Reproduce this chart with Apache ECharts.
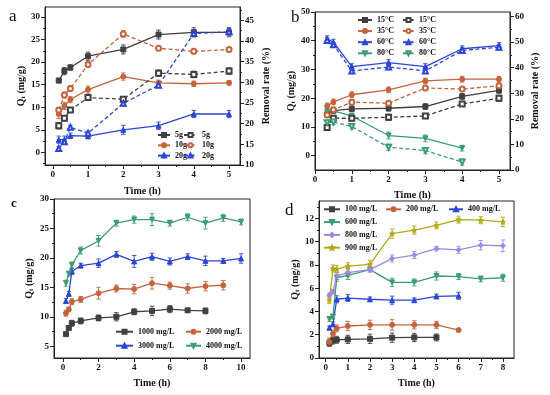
<!DOCTYPE html>
<html><head><meta charset="utf-8">
<script src="https://cdn.jsdelivr.net/npm/echarts@6/dist/echarts.min.js"></script>
<style>html,body{margin:0;padding:0;background:#fff}#c{width:550px;height:395px}</style>
</head><body><div id="c"></div>
<script>
// ---------- Panel a ----------
const xA = [0.17, 0.33, 0.5, 1, 2, 3, 4, 5];
const a5Q  = [15.9, 18.0, 18.8, 21.3, 22.8, 26.1, 26.6, 26.6];
const a10Q = [8.5, 10.3, 11.7, 13.9, 16.8, 15.4, 15.2, 15.4];
const a20Q = [2.8, 2.8, 3.7, 3.6, 5.0, 5.9, 8.5, 8.5];
const a5R  = [19.5, 21.3, 23.3, 26.3, 25.9, 32.2, 31.9, 32.7];
const a10R = [23.3, 26.9, 28.5, 34.3, 41.7, 38.2, 37.5, 37.9];
const a20R = [14.0, 15.6, 19.1, 17.7, 24.9, 29.3, 41.8, 42.2];
const a5QE  = [0.5, 0.8, 0.6, 0.9, 1.0, 1.0, 1.0, 1.0];
const a10QE = [1.0, 0.8, 0.7, 0.8, 0.8, 0.6, 0.6, 0.5];
const a20QE = [0.8, 0.8, 0.6, 0.6, 1.0, 0.8, 0.8, 0.8];
const a5RE  = [0.8, 0.6, 0.6, 0.5, 0.5, 0.8, 0.8, 0.8];
const a10RE = [0.5, 0.7, 0.7, 0.6, 0.8, 0.5, 0.6, 0.5];
const a20RE = [0.5, 0.5, 0.5, 0.5, 0.6, 0.6, 0.8, 0.8];
// ---------- Panel b ----------
const xB = [0.33, 0.5, 1, 2, 3, 4, 5];
const b15Q = [14.4, 15.7, 16.3, 16.5, 17.1, 20.6, 22.7];
const b35Q = [17.3, 18.7, 21.2, 22.9, 26.0, 26.6, 26.6];
const b60Q = [40.7, 39.5, 31.0, 32.4, 31.0, 37.2, 38.3];
const b80Q = [15.3, 15.6, 13.8, 7.0, 6.0, 2.6, null];
const b15R = [16.6, 20.2, 20.2, 20.6, 21.1, 25.8, 28.0];
const b35R = [21.5, 23.5, 26.5, 26.1, 32.0, 31.6, 32.9];
const b60R = [50.6, 48.9, 38.7, 40.2, 38.7, 46.7, 47.9];
const b80R = [18.5, 18.7, 17.0, 8.9, 7.6, 3.1, null];
const b15QE = [1.0, 1.0, 1.0, 1.0, 1.0, 1.0, 1.0];
const b35QE = [1.0, 1.0, 1.0, 1.0, 1.0, 1.0, 1.0];
const b60QE = [1.0, 1.0, 1.0, 1.0, 1.0, 1.0, 1.0];
const b80QE = [1.0, 1.0, 1.0, 1.2, 1.2, 1.0, null];
const b15RE = [1.0, 1.0, 1.0, 1.2, 1.0, 1.0, 1.2];
const b35RE = [1.0, 1.0, 1.0, 1.0, 1.0, 1.0, 1.0];
const b60RE = [1.0, 1.0, 1.0, 1.0, 1.0, 1.0, 1.0];
const b80RE = [1.0, 1.0, 1.0, 1.2, 1.2, 1.2, null];
// ---------- Panel c ----------
const xC = [0.17, 0.33, 0.5, 1, 2, 3, 4, 5, 6, 7, 8, 9, 10];
const c1000 = [7.05, 8.1, 8.9, 9.3, 9.8, 10.0, 10.85, 11.0, 11.3, 11.1, 11.0, null, null];
const c2000 = [10.6, 11.25, 12.55, 12.95, 14.0, 14.8, 14.7, 15.7, 15.3, 14.8, 15.2, 15.35, null];
const c3000 = [12.7, 13.9, 17.7, 18.7, 19.1, 20.6, 19.4, 20.2, 19.4, 20.2, 19.5, 19.5, 19.9];
const c4000 = [15.7, 17.3, 18.8, 21.25, 22.9, 25.9, 26.5, 26.5, 25.9, 26.9, 25.9, 26.8, 26.1];
const c1000E = [0.3, 0.4, 0.5, 0.5, 0.5, 0.7, 0.5, 0.8, 0.6, 0.3, 0.5, null, null];
const c2000E = [0.5, 0.4, 0.5, 0.5, 1.0, 0.6, 0.8, 1.0, 0.6, 0.8, 0.8, 0.8, null];
const c3000E = [0.4, 0.4, 0.5, 0.4, 0.7, 0.5, 1.0, 0.6, 0.6, 0.5, 0.8, 0.4, 0.8];
const c4000E = [0.5, 0.4, 0.5, 0.6, 0.9, 0.5, 0.6, 1.0, 0.5, 0.6, 1.0, 0.6, 0.5];
// ---------- Panel d ----------
const xD = [0.17, 0.33, 0.5, 1, 2, 3, 4, 5, 6, 7, 8];
const d100 = [1.3, 1.5, 1.57, 1.6, 1.65, 1.75, 1.77, 1.77, null, null, null];
const d200 = [1.37, 2.1, 2.55, 2.75, 2.85, 2.85, 2.85, 2.85, 2.4, null, null];
const d400 = [2.6, 2.9, 5.05, 5.15, 5.05, 4.97, 4.97, 5.3, 5.35, null, null];
const d600 = [3.35, 3.55, 6.9, 7.1, 7.6, 6.5, 6.5, 7.05, 7.0, 6.8, 6.9];
const d800 = [5.4, 5.7, 7.05, 7.35, 7.6, 8.55, 8.85, 9.4, 9.3, 9.7, 9.65];
const d900 = [5.0, 7.7, 7.65, 7.9, 8.05, 10.7, 11.0, 11.4, 11.9, 11.85, 11.7];
const d100E = [0.3, 0.3, 0.3, 0.35, 0.4, 0.4, 0.35, 0.3, null, null, null];
const d200E = [0.35, 0.3, 0.3, 0.4, 0.4, 0.45, 0.35, 0.3, 0.15, null, null];
const d400E = [0.15, 0.2, 0.3, 0.3, 0.2, 0.35, 0.2, 0.2, 0.3, null, null];
const d600E = [0.2, 0.2, 0.3, 0.35, 0.2, 0.35, 0.3, 0.35, 0.25, 0.25, 0.3];
const d800E = [0.2, 0.2, 0.3, 0.35, 0.2, 0.3, 0.3, 0.2, 0.3, 0.4, 0.5];
const d900E = [0.3, 0.3, 0.3, 0.3, 0.35, 0.4, 0.35, 0.3, 0.3, 0.3, 0.4];
// ---------- tick labels ----------
const tA_x = [0,1,2,3,4,5], tA_xm = [0.5,1.5,2.5,3.5,4.5];
const tA_yl = [0,5,10,15,20,25,30], tA_ylm = [-2.5,2.5,7.5,12.5,17.5,22.5,27.5];
const tA_yr = [10,15,20,25,30,35,40,45], tA_yrm = [12.5,17.5,22.5,27.5,32.5,37.5,42.5,47.5];
const tB_x = [0,1,2,3,4,5], tB_xm = [0.5,1.5,2.5,3.5,4.5];
const tB_yl = [0,10,20,30,40,50], tB_ylm = [5,15,25,35,45];
const tB_yr = [0,10,20,30,40,50,60], tB_yrm = [5,15,25,35,45,55];
const tC_x = [0,2,4,6,8,10], tC_xm = [1,3,5,7,9];
const tC_y = [5,10,15,20,25,30], tC_ym = [7.5,12.5,17.5,22.5,27.5];
const tD_x = [0,1,2,3,4,5,6,7,8], tD_xm = [0.5,1.5,2.5,3.5,4.5,5.5,6.5,7.5];
const tD_y = [0,2,4,6,8,10,12], tD_ym = [1,3,5,7,9,11,13];

const FONT = '"Liberation Serif", "Times New Roman", serif';
const K = '#222';
const C_BLACK='#404040', C_BROWN='#c4633c', C_BLUE='#2b45d6', C_GREEN='#3c9c74', C_PURPLE='#a286e6', C_OLIVE='#b3a918';
const STAR = 'path://M0,-10L2.9,-4L9.5,-3.1L4.7,1.5L5.9,8.1L0,5L-5.9,8.1L-4.7,1.5L-9.5,-3.1L-2.9,-4Z';

const xAxes = [], yAxes = [], series = [];
const QNAME = '{q|Q}{s|t}{q| (mg/g)}';
const QRICH = {q:{fontFamily:FONT,fontWeight:'bold',fontSize:10,color:'#111'}, s:{fontFamily:FONT,fontWeight:'bold',fontSize:7,color:'#111',padding:[4,0,0,0]}};

function axisPair(list, base, labels, minors) {
  const main = Object.assign({type:'value', scale:false}, base, {
    axisLine:{show:true, onZero:false, lineStyle:{color:K, width:1}},
    axisTick:{show:true, inside:false, length:4, customValues:labels, lineStyle:{color:K, width:1}},
    axisLabel:{show:true, customValues:labels, fontFamily:FONT, fontWeight:'bold', fontSize:9, color:'#111', margin:5},
    splitLine:{show:false}
  });
  const minor = Object.assign({type:'value'}, base, {name:'',
    axisLine:{show:false, onZero:false},
    axisTick:{show:true, inside:false, length:2, customValues:minors, lineStyle:{color:K, width:1}},
    axisLabel:{show:false}, splitLine:{show:false}
  });
  const i = list.length;
  list.push(main, minor);
  return i;
}
const nameStyle = {fontFamily:FONT, fontWeight:'bold', fontSize:10, color:'#111'};

const xa = axisPair(xAxes, {gridIndex:0, min:-0.22, max:5.31, position:'bottom', name:'Time (h)', nameLocation:'middle', nameGap:21, nameTextStyle:nameStyle}, tA_x, tA_xm);
const xb = axisPair(xAxes, {gridIndex:1, min:0, max:5.3, position:'bottom', name:'Time (h)', nameLocation:'middle', nameGap:20, nameTextStyle:nameStyle}, tB_x, tB_xm);
const xc = axisPair(xAxes, {gridIndex:2, min:-0.5, max:10.5, position:'bottom', name:'Time (h)', nameLocation:'middle', nameGap:20, nameTextStyle:nameStyle}, tC_x, tC_xm);
const xd = axisPair(xAxes, {gridIndex:3, min:-0.3, max:8.5, position:'bottom', name:'Time (h)', nameLocation:'middle', nameGap:20, nameTextStyle:nameStyle}, tD_x, tD_xm);

const yal = axisPair(yAxes, {gridIndex:0, min:-2.8, max:32.2, position:'left', name:QNAME, nameLocation:'middle', nameRotate:90, nameGap:16, nameTextStyle:{rich:QRICH}}, tA_yl, tA_ylm);
const yar = axisPair(yAxes, {gridIndex:0, min:10, max:48.2, position:'right', name:'Removal rate (%)', nameLocation:'middle', nameRotate:90, nameGap:21, nameTextStyle:nameStyle}, tA_yr, tA_yrm);
const ybl = axisPair(yAxes, {gridIndex:1, min:-5, max:50, position:'left', name:QNAME, nameLocation:'middle', nameRotate:90, nameGap:17, nameTextStyle:{rich:QRICH}}, tB_yl, tB_ylm);
const ybr = axisPair(yAxes, {gridIndex:1, min:0, max:61.7, position:'right', name:'Removal rate (%)', nameLocation:'middle', nameRotate:90, nameGap:20, nameTextStyle:nameStyle}, tB_yr, tB_yrm);
const yc  = axisPair(yAxes, {gridIndex:2, min:3, max:30, position:'left', name:QNAME, nameLocation:'middle', nameRotate:90, nameGap:19, nameTextStyle:{rich:QRICH}}, tC_y, tC_ym);
const yd  = axisPair(yAxes, {gridIndex:3, min:0, max:13.5, position:'left', name:QNAME, nameLocation:'middle', nameRotate:90, nameGap:17, nameTextStyle:{rich:QRICH}}, tD_y, tD_ym);

function pairs(xs, ys){ const o=[]; xs.forEach((x,i)=>{ if(ys[i]!=null) o.push([x, ys[i]]); }); return o; }
function triples(xs, ys, es){ const o=[]; xs.forEach((x,i)=>{ if(ys[i]!=null) o.push([x, ys[i], es[i]||0]); }); return o; }

function addLine(name, xs, ys, es, xi, yi, color, symbol, dashed, rot) {
  series.push({type:'line', name, xAxisIndex:xi, yAxisIndex:yi, data:pairs(xs,ys),
    symbol, symbolSize:5, symbolRotate:rot||0, showSymbol:true, animation:false, z:3,
    lineStyle:{color, width:1.3, type: dashed ? [4,2.5] : 'solid'},
    itemStyle:{color, borderColor:color, borderWidth:1}});
  series.push({type:'custom', name:name+'~err', xAxisIndex:xi, yAxisIndex:yi, coordinateSystem:'cartesian2d',
    data:triples(xs,ys,es), encode:{x:0,y:1}, silent:true, z:2, animation:false,
    renderItem:function(params, api){
      const x=api.value(0), y=api.value(1), e=api.value(2);
      const t=api.coord([x,y+e]), b=api.coord([x,y-e]); const w=2.2;
      const st={stroke:color, lineWidth:0.9};
      return {type:'group', children:[
        {type:'line', shape:{x1:t[0],y1:t[1],x2:b[0],y2:b[1]}, style:st},
        {type:'line', shape:{x1:t[0]-w,y1:t[1],x2:t[0]+w,y2:t[1]}, style:st},
        {type:'line', shape:{x1:b[0]-w,y1:b[1],x2:b[0]+w,y2:b[1]}, style:st}]};
    }});
}

// a
addLine('5g', xA, a5Q, a5QE, xa, yal, C_BLACK, 'rect', false);
addLine('10g', xA, a10Q, a10QE, xa, yal, C_BROWN, 'circle', false);
addLine('20g', xA, a20Q, a20QE, xa, yal, C_BLUE, 'triangle', false);
addLine('5g ', xA, a5R, a5RE, xa, yar, C_BLACK, 'emptyRect', true);
addLine('10g ', xA, a10R, a10RE, xa, yar, C_BROWN, 'emptyCircle', true);
addLine('20g ', xA, a20R, a20RE, xa, yar, C_BLUE, 'emptyTriangle', true);
// b
addLine('15°C', xB, b15Q, b15QE, xb, ybl, C_BLACK, 'rect', false);
addLine('35°C', xB, b35Q, b35QE, xb, ybl, C_BROWN, 'circle', false);
addLine('60°C', xB, b60Q, b60QE, xb, ybl, C_BLUE, 'triangle', false);
addLine('80°C', xB, b80Q, b80QE, xb, ybl, C_GREEN, 'triangle', false, 180);
addLine('15°C ', xB, b15R, b15RE, xb, ybr, C_BLACK, 'emptyRect', true);
addLine('35°C ', xB, b35R, b35RE, xb, ybr, C_BROWN, 'emptyCircle', true);
addLine('60°C ', xB, b60R, b60RE, xb, ybr, C_BLUE, 'emptyTriangle', true);
addLine('80°C ', xB, b80R, b80RE, xb, ybr, C_GREEN, 'emptyTriangle', true, 180);
// c
addLine('1000 mg/L', xC, c1000, c1000E, xc, yc, C_BLACK, 'rect', false);
addLine('2000 mg/L', xC, c2000, c2000E, xc, yc, C_BROWN, 'circle', false);
addLine('3000 mg/L', xC, c3000, c3000E, xc, yc, C_BLUE, 'triangle', false);
addLine('4000 mg/L', xC, c4000, c4000E, xc, yc, C_GREEN, 'triangle', false, 180);
// d
addLine('100 mg/L', xD, d100, d100E, xd, yd, C_BLACK, 'rect', false);
addLine('200 mg/L', xD, d200, d200E, xd, yd, C_BROWN, 'circle', false);
addLine('400 mg/L', xD, d400, d400E, xd, yd, C_BLUE, 'triangle', false);
addLine('600 mg/L', xD, d600, d600E, xd, yd, C_GREEN, 'triangle', false, 180);
addLine('800 mg/L', xD, d800, d800E, xd, yd, C_PURPLE, 'diamond', false);
addLine('900 mg/L', xD, d900, d900E, xd, yd, C_OLIVE, STAR, false);

function legend(names, left, top, itemWidth, gap, orient) {
  return {data:names, left, top, orient:orient||'vertical', itemWidth, itemHeight:5, itemGap:gap, padding:0,
    selectedMode:false, formatter:n=>n.trim(),
    textStyle:{fontFamily:FONT, fontWeight:'bold', fontSize:8, color:'#111'}};
}
const legends = [
  legend(['5g','10g','20g'], 157, 131, 12, 2.3),
  legend(['5g ','10g ','20g '], 183, 131, 13, 2.3),
  legend(['15°C','35°C','60°C','80°C'], 357, 16, 14, 3.1),
  legend(['15°C ','35°C ','60°C ','80°C '], 402, 16, 11, 3.1),
  legend(['1000 mg/L','3000 mg/L'], 115, 327.7, 17, 6),
  legend(['2000 mg/L','4000 mg/L'], 185, 327.7, 15, 6),
  legend(['100 mg/L','600 mg/L','800 mg/L','900 mg/L'], 323, 205.3, 16, 4.8),
  legend(['200 mg/L'], 385, 205.3, 15, 4.8),
  legend(['400 mg/L'], 448, 205.3, 14, 4.8)
];

const gridBase = {show:true, borderColor:K, borderWidth:1, backgroundColor:'transparent', containLabel:false, outerBoundsMode:'none'};
const option = {
  animation:false,
  backgroundColor:'#fff',
  grid:[
    Object.assign({left:45, top:7, width:195, height:158}, gridBase),
    Object.assign({left:315, top:12, width:195, height:158}, gridBase),
    Object.assign({left:54, top:199, width:196, height:159}, gridBase),
    Object.assign({left:319, top:201, width:195, height:157}, gridBase)
  ],
  xAxis:xAxes, yAxis:yAxes, legend:legends, series,
  graphic:[
    {type:'text', left:9, top:8, style:{text:'a', font:'17px "Liberation Serif"', fill:'#111'}},
    {type:'text', left:291, top:9, style:{text:'b', font:'17px "Liberation Serif"', fill:'#111'}},
    {type:'text', left:11, top:197, style:{text:'c', font:'bold 13px "Liberation Serif"', fill:'#111'}},
    {type:'text', left:285, top:202, style:{text:'d', font:'17px "Liberation Serif"', fill:'#111'}}
  ]
};
const chart = echarts.init(document.getElementById('c'), null, {renderer:'canvas'});
chart.setOption(option);
</script></body></html>
